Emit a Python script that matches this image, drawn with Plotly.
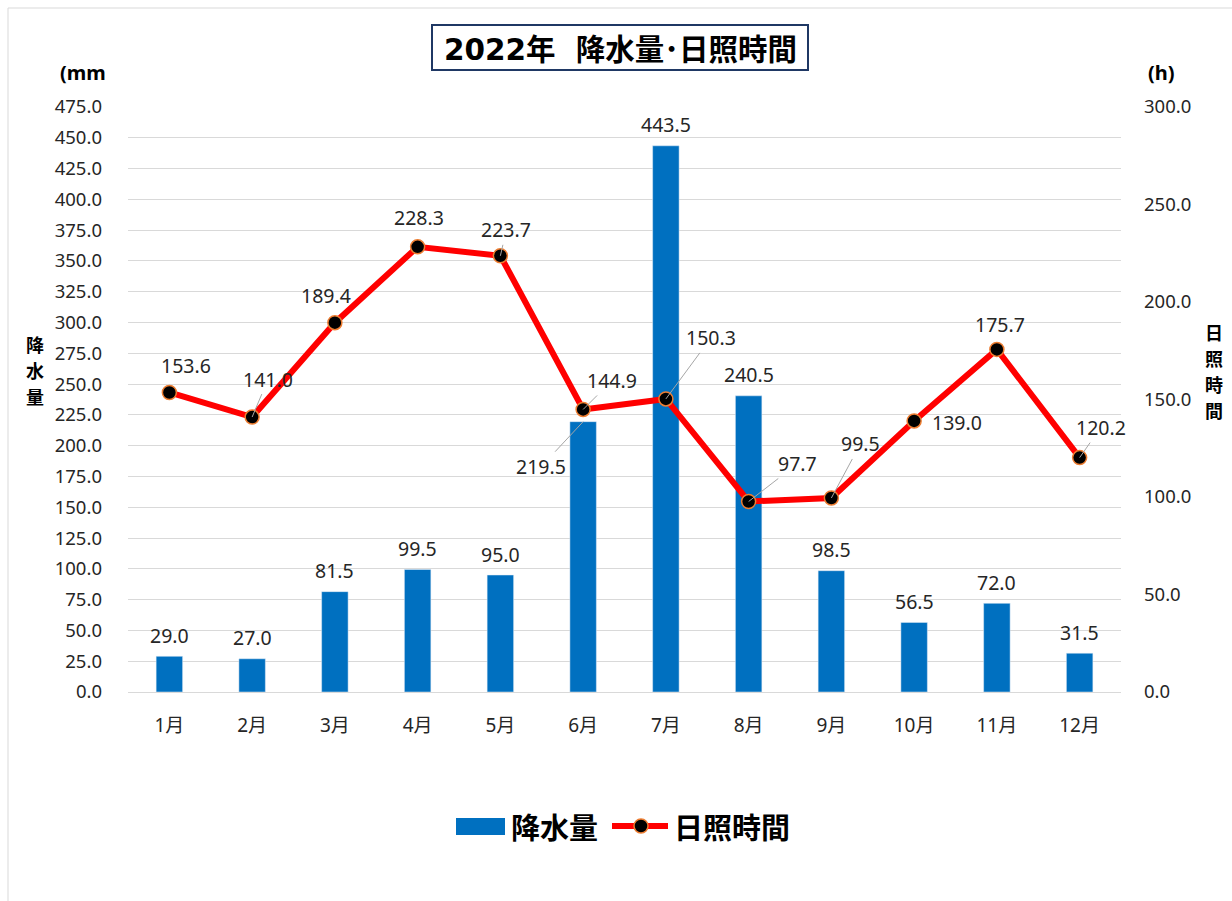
import plotly.graph_objects as go

months = ["1月", "2月", "3月", "4月", "5月", "6月", "7月", "8月", "9月", "10月", "11月", "12月"]
rain = [29.0, 27.0, 81.5, 99.5, 95.0, 219.5, 443.5, 240.5, 98.5, 56.5, 72.0, 31.5]
sun = [153.6, 141.0, 189.4, 228.3, 223.7, 144.9, 150.3, 97.7, 99.5, 139.0, 175.7, 120.2]
left_ticks = [i * 25.0 for i in range(20)]
right_ticks = [i * 50.0 for i in range(7)]

JP = "Noto Sans CJK JP"
NUM = "Noto Sans, Noto Sans CJK JP"
BLUE = "#0070C0"
RED = "#FF0000"
TXT = "#262626"

fig = go.Figure()
fig.add_trace(go.Bar(x=months, y=rain, marker_color=BLUE, name="降水量", yaxis="y"))
fig.add_trace(go.Scatter(x=months, y=sun, mode="lines+markers", name="日照時間", yaxis="y2",
                         line=dict(color=RED, width=6),
                         marker=dict(size=14, color="black", line=dict(color="#ED7D31", width=1.5))))

anns = []
# bar labels
for m, v in zip(months, rain):
    if m == "6月":
        anns.append(dict(x=m, y=v, xref="x", yref="y", text=f"{v:.1f}", showarrow=True,
                         ax=-42, ay=45, arrowhead=0, arrowwidth=1, arrowcolor="#A6A6A6", standoff=0))
    else:
        anns.append(dict(x=m, y=v, xref="x", yref="y", text=f"{v:.1f}", showarrow=False, yshift=21))

# line labels: (ax, ay, leader)
line_off = [(17, -27, False), (16, -38, True), (-9, -27, False), (1, -29, False), (6, -26, True),
            (29, -29, True), (45, -61, True), (49, -38, True), (29, -54, True), (43, 2, False),
            (3, -25, False), (21, -30, True)]
for m, v, (ax, ay, lead) in zip(months, sun, line_off):
    if lead:
        anns.append(dict(x=m, y=v, xref="x", yref="y2", text=f"{v:.1f}", showarrow=True,
                         ax=ax, ay=ay, arrowhead=0, arrowwidth=1, arrowcolor="#A6A6A6", standoff=0))
    else:
        anns.append(dict(x=m, y=v, xref="x", yref="y2", text=f"{v:.1f}", showarrow=False,
                         xshift=ax, yshift=-ay))
for a in anns:
    a["font"] = dict(family=NUM, size=19.5, color=TXT)


def px(xp):
    return (xp - 128) / 993


def py(yp):
    return (692 - yp) / 585


def label(x, y, text, size, family=JP, xanchor="center"):
    anns.append(dict(xref="paper", yref="paper", x=px(x), y=py(y), text=text, showarrow=False,
                     xanchor=xanchor, yanchor="middle", align="center",
                     font=dict(family=family, size=size, color="black")))


label(620, 47, "<b><span style=\"font-family:'DejaVu Sans'\">2022</span>年&nbsp;&nbsp;&nbsp;降水量･日照時間</b>", 29.5)
label(83, 72, "<b>(mm</b>", 20, NUM)
label(1161, 72, "<b>(h)</b>", 20, NUM)
for i, ch in enumerate("降水量"):
    label(34.5, 344 + 26 * i, f"<b>{ch}</b>", 18)
for i, ch in enumerate("日照時間"):
    label(1213.5, 332 + 26 * i, f"<b>{ch}</b>", 18)
label(509, 826, "<b>降水量</b>", 29, xanchor="left")
label(672, 826, "<b>日照時間</b>", 29, xanchor="left")

shapes = [
    dict(type="rect", xref="paper", yref="paper", x0=px(432), x1=px(808), y0=py(70), y1=py(25),
         line=dict(color="#1F3864", width=2), fillcolor="rgba(0,0,0,0)"),
    dict(type="rect", xref="paper", yref="paper", x0=px(456), x1=px(505), y0=py(835), y1=py(818),
         fillcolor=BLUE, line=dict(width=0)),
    dict(type="line", xref="paper", yref="paper", x0=px(612), x1=px(668), y0=py(826), y1=py(826),
         line=dict(color=RED, width=6)),
    dict(type="circle", xref="paper", yref="paper", x0=px(634), x1=px(648), y0=py(833), y1=py(819),
         fillcolor="black", line=dict(color="#ED7D31", width=1.5)),
    dict(type="line", xref="paper", yref="paper", x0=px(8), x1=px(8), y0=py(8), y1=py(901),
         line=dict(color="#D9D9D9", width=1)),
    dict(type="line", xref="paper", yref="paper", x0=px(8), x1=px(1232), y0=py(8), y1=py(8),
         line=dict(color="#D9D9D9", width=1)),
]

fig.update_layout(
    width=1232, height=901,
    margin=dict(l=128, r=111, t=107, b=209, autoexpand=False),
    paper_bgcolor="white", plot_bgcolor="white",
    showlegend=False, bargap=0.68,
    annotations=anns, shapes=shapes,
    xaxis=dict(range=[-0.5, 11.5], tickfont=dict(family=NUM, size=19, color=TXT), showline=True,
               linecolor="#D9D9D9", ticks="", ticklabelstandoff=16),
    yaxis=dict(range=[0, 475], tickvals=left_ticks, tickformat=".1f",
               tickfont=dict(family=NUM, size=18.5, color=TXT),
               gridcolor="#D9D9D9", zeroline=False, ticklabelstandoff=25),
    yaxis2=dict(range=[0, 300], tickvals=right_ticks, tickformat=".1f", overlaying="y", side="right",
                tickfont=dict(family=NUM, size=18.5, color=TXT),
                showgrid=False, zeroline=False, ticklabelstandoff=22),
)

fig.write_html("out.html", config={"displayModeBar": False},
               post_script="document.body.style.margin='0';document.body.style.overflow='hidden';")
